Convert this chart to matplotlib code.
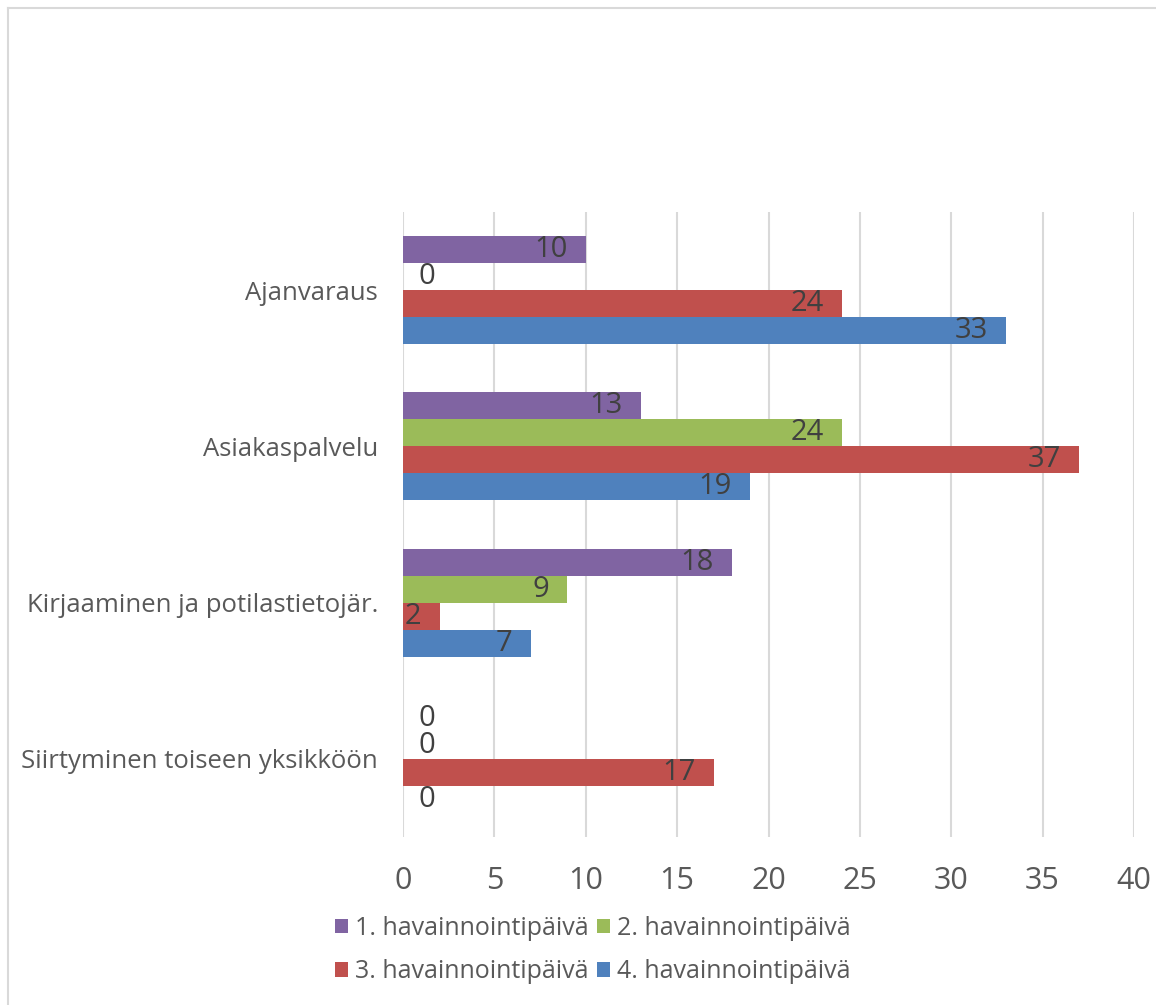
import matplotlib.pyplot as plt
from matplotlib.patches import Patch
from matplotlib.lines import Line2D
import numpy as np

# data
categories = ["Ajanvaraus", "Asiakaspalvelu", "Kirjaaminen ja potilastietojär.",
              "Siirtyminen toiseen yksikköön"]
series_names = ["1. havainnointipäivä", "2. havainnointipäivä",
                "3. havainnointipäivä", "4. havainnointipäivä"]
day1 = [10, 13, 18, 0]
day2 = [0, 24, 9, 0]
day3 = [24, 37, 2, 17]
day4 = [33, 19, 7, 0]
x_ticks = [0, 5, 10, 15, 20, 25, 30, 35, 40]

colors = ["#8064A2", "#9BBB59", "#C0504D", "#4F81BD"]
FONT = ["Open Sans", "DejaVu Sans"]
plt.rcParams['font.family'] = FONT

W, H = 1156, 1005
fig = plt.figure(figsize=(W / 100, H / 100), dpi=100)
ax = fig.add_axes([403 / W, 1 - 837 / H, (1134 - 403) / W, (837 - 212) / H])

bar_h = 0.173
y = np.arange(len(categories))
all_series = [day1, day2, day3, day4]
for i, vals in enumerate(all_series):
    pos = y + (i - 1.5) * bar_h
    ax.barh(pos, vals, height=bar_h, color=colors[i], zorder=3)
    for p, v in zip(pos, vals):
        if v == 0:
            ax.annotate(str(v), (v, p), xytext=(11, 0), textcoords="offset points",
                        ha="left", va="center", fontsize=21, color="#404040", zorder=4)
        else:
            ax.annotate(str(v), (v, p), xytext=(-13, 0), textcoords="offset points",
                        ha="right", va="center", fontsize=21, color="#404040", zorder=4)

ax.set_xlim(0, 40)
ax.set_ylim(3.5, -0.5)
ax.set_xticks(x_ticks)
ax.set_yticks(y)
ax.set_yticklabels(categories)
ax.grid(axis="x", color="#D9D9D9", linewidth=1.5, zorder=0)
for s in ax.spines.values():
    s.set_visible(False)
ax.tick_params(axis="x", length=0, labelsize=22, labelcolor="#595959", pad=21)
ax.tick_params(axis="y", length=0, labelsize=18.5, labelcolor="#595959", pad=18)

# legend, filled row by row like the original
order = [0, 2, 1, 3]
handles = [Patch(facecolor=colors[k], edgecolor="none") for k in order]
labels = [series_names[k] for k in order]
fig.legend(handles, labels, loc="center", bbox_to_anchor=(593 / W, 1 - 950 / H),
           ncol=2, frameon=False, fontsize=18, labelcolor="#595959",
           handlelength=0.5, handleheight=0.5, handletextpad=0.3,
           columnspacing=0.35, labelspacing=0.75)

# outer chart border
fig.add_artist(Line2D([8 / W, 8 / W], [0, 1 - 8 / H], color="#D9D9D9", linewidth=1.5))
fig.add_artist(Line2D([8 / W, 1], [1 - 8 / H, 1 - 8 / H], color="#D9D9D9", linewidth=1.5))

fig.savefig("out.png", dpi=100)
